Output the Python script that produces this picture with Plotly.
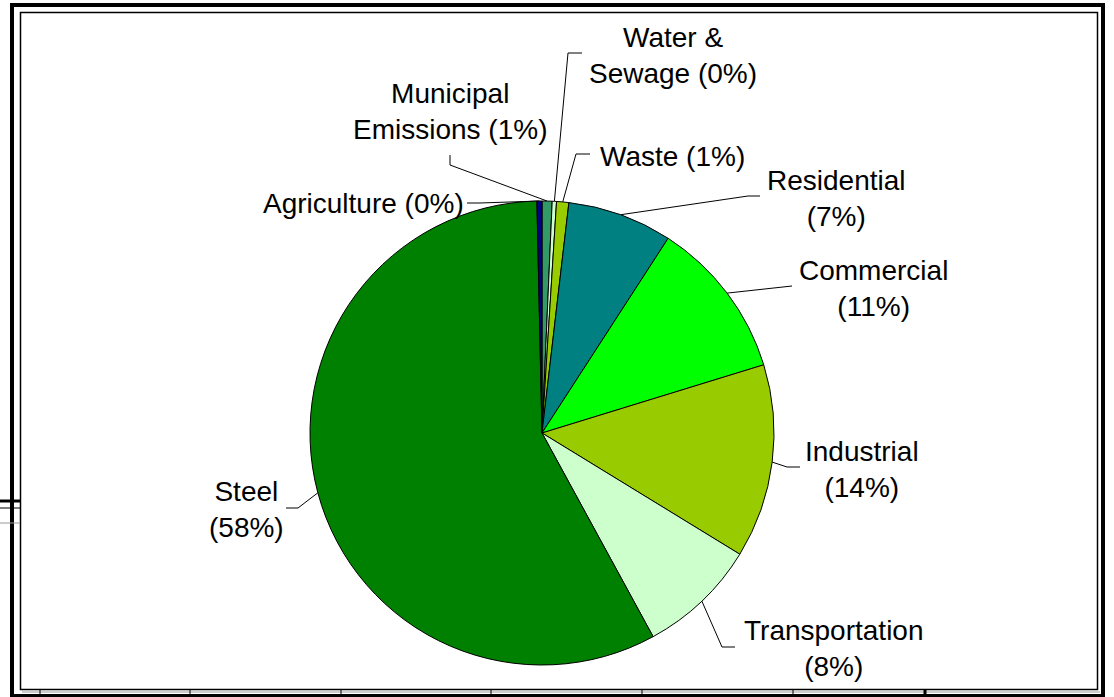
import math
import plotly.graph_objects as go

# data (clockwise from 12 o'clock)
sectors = ["Municipal Emissions", "Water & Sewage", "Waste", "Residential",
           "Commercial", "Industrial", "Transportation", "Steel", "Agriculture"]
shares = [0.7, 0.3, 0.85, 7.3, 11.1, 13.5, 8.3, 57.6, 0.35]
label_text = ["Municipal<br>Emissions (1%)", "Water &<br>Sewage (0%)", "Waste (1%)",
              "Residential<br>(7%)", "Commercial<br>(11%)", "Industrial<br>(14%)",
              "Transportation<br>(8%)", "Steel<br>(58%)", "Agriculture (0%)"]
colors = ["#339966", "#CCFFCC", "#99CC00", "#008080", "#00FF00",
          "#99CC00", "#CCFFCC", "#008000", "#000080"]

W, H = 1114, 697
CX, CY, R = 542, 433, 232  # pie centre / radius in pixels

# label placement (pixels): text centre, start of leader, elbow of leader
label_pos = {
    "Municipal Emissions": ((450, 111), (450, 155), (450, 165)),
    "Water & Sewage": ((673, 55), (582, 53), (568, 53)),
    "Waste": ((672, 156), (590, 154), (576, 154)),
    "Residential": ((836, 198), (760, 196), (748, 196)),
    "Commercial": ((873, 288), (792, 286), (782, 287)),
    "Industrial": ((862, 469), (800, 467), (787, 467)),
    "Transportation": ((834, 648), (735, 647), (722, 647)),
    "Steel": ((246, 509), (286, 508), (298, 508)),
    "Agriculture": ((363, 203), (467, 203), (480, 203)),
}

fig = go.Figure()
fig.add_trace(go.Pie(
    labels=sectors, values=shares, sort=False, direction="clockwise", rotation=0,
    marker=dict(colors=colors, line=dict(color="black", width=1)),
    textinfo="none", hoverinfo="label+percent", showlegend=False,
    domain=dict(x=[(CX - R) / W, (CX + R) / W],
                y=[(H - CY - R) / H, (H - CY + R) / H]),
))

# leader lines from labels to slice mid-angles
total = sum(shares)
lx, ly = [], []
cum = 0
annotations = []
for name, val, txt in zip(sectors, shares, label_text):
    mid = (cum + val / 2) / total * 2 * math.pi
    cum += val
    ex, ey = CX + R * math.sin(mid), CY - R * math.cos(mid)
    (tx, ty), (sx, sy), (bx, by) = label_pos[name]
    lx += [sx, bx, ex, None]
    ly += [sy, by, ey, None]
    annotations.append(dict(x=tx, y=ty, xref="x", yref="y", text=txt, showarrow=False,
                            xanchor="center", yanchor="middle", align="center",
                            font=dict(family="Arial, Liberation Sans", size=28, color="black")))

fig.add_trace(go.Scatter(x=lx, y=ly, mode="lines", line=dict(color="black", width=1),
                         hoverinfo="skip", showlegend=False))

# frame (Excel-style border remnants)
shapes = [
    dict(type="rect", x0=12, y0=5, x1=1103, y1=696, line=dict(color="black", width=4)),
    dict(type="rect", x0=20.5, y0=12.5, x1=1097.5, y1=689.5, line=dict(color="black", width=1.5)),
    dict(type="line", x0=22, y0=692, x1=1100, y1=692, line=dict(color="#999999", width=1)),
    dict(type="line", x0=0, y0=501, x1=20, y1=501, line=dict(color="black", width=3)),
    dict(type="line", x0=0, y0=508, x1=20, y1=508, line=dict(color="black", width=1)),
    dict(type="line", x0=0, y0=523, x1=20, y1=523, line=dict(color="#999999", width=1)),
]
for tx in [40, 190, 341, 491, 642, 793]:
    shapes.append(dict(type="line", x0=tx, y0=690, x1=tx, y1=695, line=dict(color="black", width=1)))
shapes.append(dict(type="line", x0=925, y0=690, x1=925, y1=697, line=dict(color="black", width=3)))
for s in shapes:
    s.update(xref="x", yref="y", layer="above")

fig.update_layout(
    width=W, height=H,
    margin=dict(l=0, r=0, t=0, b=0),
    paper_bgcolor="white", plot_bgcolor="rgba(0,0,0,0)",
    xaxis=dict(range=[0, W], visible=False, fixedrange=True),
    yaxis=dict(range=[H, 0], visible=False, fixedrange=True),
    annotations=annotations, shapes=shapes,
)
fig.write_html("out.html", config={"displayModeBar": False},
               post_script="document.body.style.margin='0';")
